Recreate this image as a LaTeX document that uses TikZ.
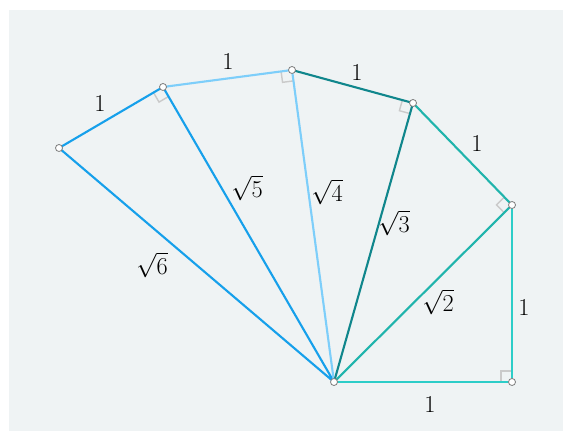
\documentclass[tikz,border=0pt]{standalone}
\usetikzlibrary{calc}
\definecolor{bgpanel}{RGB}{239,243,244}
\definecolor{sixblue}{RGB}{22,160,235}
\definecolor{fourblue}{RGB}{125,206,250}
\definecolor{threeteal}{RGB}{16,134,140}
\definecolor{twoteal}{RGB}{32,180,172}
\definecolor{oneteal}{RGB}{45,205,200}
\definecolor{markgray}{RGB}{202,202,202}
\tikzset{
  side/.style  = {line width=1.8pt, line cap=round, line join=round},
  vdot/.style  = {circle, draw=black!50, fill=white, line width=0.7pt,
                  inner sep=0pt, minimum size=6pt},
  rmark/.style = {draw=markgray, line width=1.2pt},
  lab/.style   = {font=\huge, text=black, inner sep=1pt},
}

\begin{document}
\begin{tikzpicture}[x=0.03cm, y=-0.03cm]

    % panel, pixel coordinates (y downwards)
    \useasboundingbox (0,0) rectangle (563,431);
    \fill[bgpanel] (9,10) rectangle (563,431);

    \coordinate (O)  at (334,382);
    \coordinate (A1) at (512,382);
    \coordinate (A2) at (512,205);
    \coordinate (A3) at (413,103);
    \coordinate (A4) at (292,70);
    \coordinate (A5) at (163,87);
    \coordinate (A6) at (59,148);

    % right-angle marks
    \foreach \v/\w in {A1/A2, A2/A3, A3/A4, A4/A5, A5/A6}
      \draw[rmark] ($(\v)!0.33cm!(O)$) -- ($(\v)!0.33cm!(O) + (\v)!0.33cm!(\w) - (\v)$)
                   -- ($(\v)!0.33cm!(\w)$);

    \draw[side, sixblue]   (O) -- (A6) -- (A5) -- (O);
    \draw[side, fourblue]  (A5) -- (A4) -- (O);
    \draw[side, threeteal] (A4) -- (A3) -- (O);
    \draw[side, twoteal]   (A3) -- (A2) -- (O);
    \draw[side, oneteal]   (O) -- (A1) -- (A2);

    \foreach \p in {O, A1, A2, A3, A4, A5, A6}
      \node[vdot] (d\p) at (\p) {};

    \node[lab] (l1)  at (430,404) {1};
    \node[lab] (l2)  at (524,307) {1};
    \node[lab] (l3)  at (477,143) {1};
    \node[lab] (l4)  at (357,72)  {1};
    \node[lab] (l5)  at (228,61)  {1};
    \node[lab] (l6)  at (100,103) {1};
    \node[lab] (s2)  at (438,302) {$\sqrt{2}$};
    \node[lab] (s3)  at (394,223) {$\sqrt{3}$};
    \node[lab] (s4)  at (327,192) {$\sqrt{4}$};
    \node[lab] (s5)  at (247,188) {$\sqrt{5}$};
    \node[lab] (s6)  at (152,265) {$\sqrt{6}$};
  \end{tikzpicture}
\end{document}
